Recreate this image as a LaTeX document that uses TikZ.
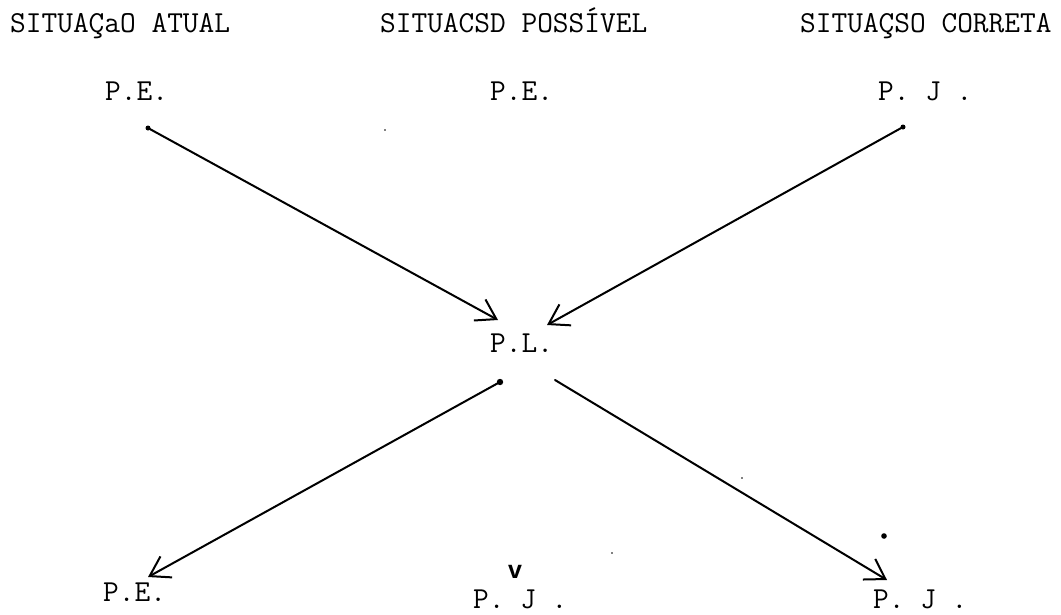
\documentclass[tikz,border=0pt]{standalone}
\usepackage{fontspec}
\usetikzlibrary{arrows.meta}
\newfontfamily\vfont{Liberation Sans}
\tikzset{
  lbl/.style={anchor=base west, inner sep=0pt, font=\ttfamily\fontsize{30.5}{30.5}\selectfont},
  conn/.style={line width=2pt, line cap=round, -{Straight Barb[length=19pt,width=24pt,line width=2pt]}},
  blob/.style={fill=black, draw=none},
}
\begin{document}
\begin{tikzpicture}[x=1pt,y=-1pt]
\useasboundingbox (0,0) rectangle (1061,614);
% headers
\node[lbl] (h1) at (10,32) {SITUAÇaO ATUAL};
\node[lbl] (h2) at (380,32) {SITUACSD POSSÍVEL};
\node[lbl] (h3) at (800,32) {SITUAÇSO CORRETA};
% top labels
\node[lbl] (t1) at (105,100) {P.E.};
\node[lbl] (t2) at (490,100) {P.E.};
\node[lbl] (t3) at (878,100) {P. J .};
% centre
\node[lbl] (pl) at (490,352) {P.L.};
% bottom labels
\node[lbl] (b1) at (103,601) {P.E.};
\node[lbl] (b2) at (473,608) {P. J .};
\node[lbl] (b3) at (873,608) {P. J .};
\node[anchor=base, inner sep=0pt, font=\vfont\bfseries\fontsize{25}{25}\selectfont] (v) at (515,578) {v};
% connector end points
\coordinate (a1s) at (148,128);
\coordinate (a1e) at (498,320);
\coordinate (a2s) at (903,127);
\coordinate (a2e) at (547,325);
\coordinate (a3s) at (500,382);
\coordinate (a3e) at (148,577);
\coordinate (a4s) at (555,380);
\coordinate (a4e) at (887,580);
\draw[conn] (a1s) -- (a1e);
\draw[conn] (a2s) -- (a2e);
\draw[conn] (a3s) -- (a3e);
\draw[conn] (a4s) -- (a4e);
\fill[blob] (a1s) circle (2.5pt);
\fill[blob] (a2s) circle (2.5pt);
\fill[blob] (a3s) circle (3.2pt);
% specks
\fill[blob] (884,536) circle (2.8pt);
\fill[blob] (385,130) circle (0.9pt);
\fill[blob] (742,478) circle (0.9pt);
\fill[blob] (612,553) circle (0.9pt);
\end{tikzpicture}
\end{document}
